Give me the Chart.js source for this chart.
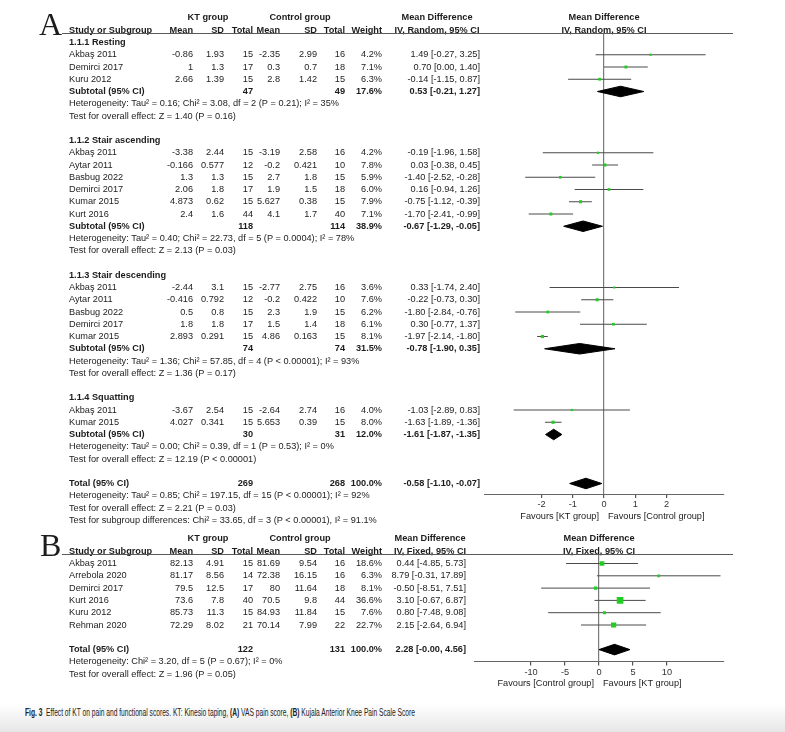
<!DOCTYPE html>
<html><head><meta charset="utf-8">
<script src="https://cdn.jsdelivr.net/npm/chart.js@4.4.1/dist/chart.umd.min.js"></script>
<style>
html,body{margin:0;padding:0;background:#fff;}
body{width:785px;height:732px;position:relative;overflow:hidden;}
#cA{position:absolute;left:0;top:0;}
#cB{position:absolute;left:0;top:528px;}
#band{position:absolute;left:0;top:704px;width:785px;height:28px;background:linear-gradient(#ffffff,#e6e6e6);}
#cap{position:absolute;left:25px;top:706px;font-family:"Liberation Sans Narrow","Liberation Sans",Arial,sans-serif;font-size:10.5px;line-height:12px;color:#222;white-space:nowrap;transform-origin:0 50%;}
</style></head><body>
<div id="band"></div>
<canvas id="cA" width="785" height="528"></canvas>
<canvas id="cB" width="785" height="165"></canvas>
<div id="cap"><b>Fig. 3</b>&nbsp; Effect of KT on pain and functional scores. KT: Kinesio taping, <b>(A)</b> VAS pain score, <b>(B)</b> Kujala Anterior Knee Pain Scale Score</div>
<script>
// ---------------- Panel A data (VAS pain) ----------------
const subgroupsA = ["1.1.1 Resting", "1.1.2 Stair ascending", "1.1.3 Stair descending", "1.1.4 Squatting"];
const studyA = ["Akbaş 2011","Demirci 2017","Kuru 2012","Akbaş 2011","Aytar 2011","Basbug 2022","Demirci 2017","Kumar 2015","Kurt 2016","Akbaş 2011","Aytar 2011","Basbug 2022","Demirci 2017","Kumar 2015","Akbaş 2011","Kumar 2015"];
const groupA = [0,0,0,1,1,1,1,1,1,2,2,2,2,2,3,3];
const ktMeanA = [-0.86, 1, 2.66, -3.38, -0.166, 1.3, 2.06, 4.873, 2.4, -2.44, -0.416, 0.5, 1.8, 2.893, -3.67, 4.027];
const ktSdA = [1.93, 1.3, 1.39, 2.44, 0.577, 1.3, 1.8, 0.62, 1.6, 3.1, 0.792, 0.8, 1.8, 0.291, 2.54, 0.341];
const ktNA = [15, 17, 15, 15, 12, 15, 17, 15, 44, 15, 12, 15, 17, 15, 15, 15];
const ctMeanA = [-2.35, 0.3, 2.8, -3.19, -0.2, 2.7, 1.9, 5.627, 4.1, -2.77, -0.2, 2.3, 1.5, 4.86, -2.64, 5.653];
const ctSdA = [2.99, 0.7, 1.42, 2.58, 0.421, 1.8, 1.5, 0.38, 1.7, 2.75, 0.422, 1.9, 1.4, 0.163, 2.74, 0.39];
const ctNA = [16, 18, 15, 16, 10, 15, 18, 15, 40, 16, 10, 15, 18, 15, 16, 15];
const weightA = [4.2, 7.1, 6.3, 4.2, 7.8, 5.9, 6.0, 7.9, 7.1, 3.6, 7.6, 6.2, 6.1, 8.1, 4.0, 8.0];
const mdA = [1.49, 0.70, -0.14, -0.19, 0.03, -1.40, 0.16, -0.75, -1.70, 0.33, -0.22, -1.80, 0.30, -1.97, -1.03, -1.63];
const loA = [-0.27, 0.00, -1.15, -1.96, -0.38, -2.52, -0.94, -1.12, -2.41, -1.74, -0.73, -2.84, -0.77, -2.14, -2.89, -1.89];
const hiA = [3.25, 1.40, 0.87, 1.58, 0.45, -0.28, 1.26, -0.39, -0.99, 2.40, 0.30, -0.76, 1.37, -1.80, 0.83, -1.36];
const subKtNA = [47, 118, 74, 30];
const subCtNA = [49, 114, 74, 31];
const subWeightA = [17.6, 38.9, 31.5, 12.0];
const subMdA = [0.53, -0.67, -0.78, -1.61];
const subLoA = [-0.21, -1.29, -1.90, -1.87];
const subHiA = [1.27, -0.05, 0.35, -1.35];
const hetA = [
  "Heterogeneity: Tau² = 0.16; Chi² = 3.08, df = 2 (P = 0.21); I² = 35%",
  "Heterogeneity: Tau² = 0.40; Chi² = 22.73, df = 5 (P = 0.0004); I² = 78%",
  "Heterogeneity: Tau² = 1.36; Chi² = 57.85, df = 4 (P < 0.00001); I² = 93%",
  "Heterogeneity: Tau² = 0.00; Chi² = 0.39, df = 1 (P = 0.53); I² = 0%"];
const testA = [
  "Test for overall effect: Z = 1.40 (P = 0.16)",
  "Test for overall effect: Z = 2.13 (P = 0.03)",
  "Test for overall effect: Z = 1.36 (P = 0.17)",
  "Test for overall effect: Z = 12.19 (P < 0.00001)"];
const totalA = { kt: 269, ct: 268, w: 100.0, md: -0.58, lo: -1.10, hi: -0.07 };
const totalNotesA = [
  "Heterogeneity: Tau² = 0.85; Chi² = 197.15, df = 15 (P < 0.00001); I² = 92%",
  "Test for overall effect: Z = 2.21 (P = 0.03)",
  "Test for subgroup differences: Chi² = 33.65, df = 3 (P < 0.00001), I² = 91.1%"];
const ticksA = [-2, -1, 0, 1, 2];

// ---------------- Panel B data (Kujala) ----------------
const studyB = ["Akbaş 2011","Arrebola 2020","Demirci 2017","Kurt 2016","Kuru 2012","Rehman 2020"];
const ktMeanB = [82.13, 81.17, 79.5, 73.6, 85.73, 72.29];
const ktSdB = [4.91, 8.56, 12.5, 7.8, 11.3, 8.02];
const ktNB = [15, 14, 17, 40, 15, 21];
const ctMeanB = [81.69, 72.38, 80, 70.5, 84.93, 70.14];
const ctSdB = [9.54, 16.15, 11.64, 9.8, 11.84, 7.99];
const ctNB = [16, 16, 18, 44, 15, 22];
const weightB = [18.6, 6.3, 8.1, 36.6, 7.6, 22.7];
const mdB = [0.44, 8.79, -0.50, 3.10, 0.80, 2.15];
const loB = [-4.85, -0.31, -8.51, -0.67, -7.48, -2.64];
const hiB = [5.73, 17.89, 7.51, 6.87, 9.08, 6.94];
const totalB = { kt: 122, ct: 131, w: 100.0, md: 2.28, lo: -0, hi: 4.56 };
const totalNotesB = [
  "Heterogeneity: Chi² = 3.20, df = 5 (P = 0.67); I² = 0%",
  "Test for overall effect: Z = 1.96 (P = 0.05)"];
const ticksB = [-10, -5, 0, 5, 10];

// ---------------- helpers ----------------
const FONT = '"Liberation Sans", Arial, sans-serif';
const FS = 9.2;
const TXT = '#1c1c1c';
const GREEN = '#22cc22';
const COLX = [193, 224, 253, 280, 317, 345, 382];

function fmt(v, d) { const s = Math.abs(v).toFixed(d); return (v < 0 || Object.is(v, -0)) ? '-' + s : s; }
function ci(m, l, h) { return fmt(m, 2) + ' [' + fmt(l, 2) + ', ' + fmt(h, 2) + ']'; }
function pct(w) { return w.toFixed(1) + '%'; }

// ---------------- rows ----------------
const rowsA = [];
let rr = 0;
subgroupsA.forEach((g, gi) => {
  rowsA.push({ r: rr++, label: g, bold: true });
  studyA.forEach((name, i) => {
    if (groupA[i] !== gi) return;
    rowsA.push({ r: rr++, label: name,
      cells: [ktMeanA[i], ktSdA[i], ktNA[i], ctMeanA[i], ctSdA[i], ctNA[i]].map(String).concat([pct(weightA[i])]),
      ci: ci(mdA[i], loA[i], hiA[i]), mark: 'sq', md: mdA[i], lo: loA[i], hi: hiA[i], w: weightA[i] });
  });
  rowsA.push({ r: rr++, label: 'Subtotal (95% CI)', bold: true,
    cells: ['', '', String(subKtNA[gi]), '', '', String(subCtNA[gi]), pct(subWeightA[gi])],
    ci: ci(subMdA[gi], subLoA[gi], subHiA[gi]), mark: 'dia', md: subMdA[gi], lo: subLoA[gi], hi: subHiA[gi] });
  rowsA.push({ r: rr++, label: hetA[gi] });
  rowsA.push({ r: rr++, label: testA[gi] });
  rr++;
});
rowsA.push({ r: rr++, label: 'Total (95% CI)', bold: true,
  cells: ['', '', String(totalA.kt), '', '', String(totalA.ct), pct(totalA.w)],
  ci: ci(totalA.md, totalA.lo, totalA.hi), mark: 'dia', md: totalA.md, lo: totalA.lo, hi: totalA.hi });
totalNotesA.forEach(t => rowsA.push({ r: rr++, label: t }));

const rowsB = [];
rr = 0;
studyB.forEach((name, i) => {
  rowsB.push({ r: rr++, label: name,
    cells: [ktMeanB[i], ktSdB[i], ktNB[i], ctMeanB[i], ctSdB[i], ctNB[i]].map(String).concat([pct(weightB[i])]),
    ci: ci(mdB[i], loB[i], hiB[i]), mark: 'sq', md: mdB[i], lo: loB[i], hi: hiB[i], w: weightB[i] });
});
rr++;
rowsB.push({ r: rr++, label: 'Total (95% CI)', bold: true,
  cells: ['', '', String(totalB.kt), '', '', String(totalB.ct), pct(totalB.w)],
  ci: ci(totalB.md, totalB.lo, totalB.hi), mark: 'dia', md: totalB.md, lo: totalB.lo, hi: totalB.hi });
totalNotesB.forEach(t => rowsB.push({ r: rr++, label: t }));

function datasetsFrom(rows) {
  const ds = [];
  const sq = { type: 'scatter', data: [], pointStyle: 'rect', pointRadius: [], pointHoverRadius: 0,
               backgroundColor: GREEN, borderColor: GREEN, borderWidth: 0, order: 0 };
  rows.forEach(row => {
    if (row.mark === 'sq') {
      ds.push({ type: 'line', data: [{ x: row.lo, y: row.r }, { x: row.hi, y: row.r }],
        borderColor: '#4a4a4a', borderWidth: 1, pointRadius: 0, pointHoverRadius: 0, fill: false, order: 2 });
      sq.data.push({ x: row.md, y: row.r });
      sq.pointRadius.push(1.1 * Math.sqrt(row.w) / 1.414);
    } else if (row.mark === 'dia') {
      const h = 0.43;
      ds.push({ type: 'line', data: [{ x: row.lo, y: row.r }, { x: row.md, y: row.r - h }, { x: row.hi, y: row.r },
        { x: row.md, y: row.r + h }, { x: row.lo, y: row.r }],
        borderColor: '#000', backgroundColor: '#000', borderWidth: 1, pointRadius: 0, pointHoverRadius: 0,
        fill: 'shape', tension: 0, order: 1 });
    }
  });
  ds.push(sq);
  return ds;
}

function tablePlugin(spec) {
  return {
    id: 'forestTable',
    afterDraw(chart) {
      const ctx = chart.ctx, ys = chart.scales.y, xs = chart.scales.x, ca = chart.chartArea;
      ctx.save();
      ctx.fillStyle = TXT;
      const t = (s, px, py, align, bold, base) => {
        ctx.font = (bold ? 'bold ' : '') + FS + 'px ' + FONT;
        ctx.textAlign = align; ctx.textBaseline = base || 'middle';
        ctx.fillText(s, px, py);
      };
      // panel letter
      ctx.font = '32px "Liberation Serif", "Times New Roman", serif';
      ctx.textAlign = 'left'; ctx.textBaseline = 'alphabetic';
      ctx.fillText(spec.letter, spec.letterX, spec.letterY);
      // headers
      const b2 = ca.top - 0.5, b1 = ca.top - 13.4;
      const plotC = (ca.left + ca.right) / 2;
      t('KT group', 208, b1, 'center', true, 'alphabetic');
      t('Control group', 300, b1, 'center', true, 'alphabetic');
      t('Mean Difference', spec.ciHeadC, b1, 'center', true, 'alphabetic');
      t('Mean Difference', plotC, b1, 'center', true, 'alphabetic');
      t('Study or Subgroup', 69, b2, 'left', true, 'alphabetic');
      ['Mean', 'SD', 'Total', 'Mean', 'SD', 'Total', 'Weight'].forEach((h, k) => t(h, COLX[k], b2, 'right', true, 'alphabetic'));
      t(spec.method, spec.ciHeadC, b2, 'center', true, 'alphabetic');
      t(spec.method, plotC, b2, 'center', true, 'alphabetic');
      ctx.strokeStyle = '#5a5a5a'; ctx.lineWidth = 1;
      ctx.beginPath(); ctx.moveTo(62, Math.round(ca.top) + 0.5); ctx.lineTo(733, Math.round(ca.top) + 0.5); ctx.stroke();
      // rows
      spec.rows.forEach(row => {
        const py = ys.getPixelForValue(row.r);
        t(row.label, 69, py, 'left', row.bold);
        if (row.cells) row.cells.forEach((c, k) => { if (c) t(c, COLX[k], py, 'right', row.bold); });
        if (row.ci) t(row.ci, spec.ciRight, py, 'right', row.bold);
      });
      // favours labels
      const zx = xs.getPixelForValue(0), fy = ca.bottom + 22;
      t(spec.favL, zx - 5, fy, 'right', false);
      t(spec.favR, zx + 4, fy, 'left', false);
      ctx.restore();
    }
  };
}

function makeForest(id, spec) {
  const el = document.getElementById(id);
  const H = el.height;
  return new Chart(el, {
    type: 'scatter',
    data: { datasets: datasetsFrom(spec.rows) },
    options: {
      responsive: false, animation: false, events: [],
      layout: { padding: { left: spec.left, right: 785 - spec.right, top: spec.top, bottom: 0 } },
      plugins: { legend: { display: false }, tooltip: { enabled: false } },
      scales: {
        x: {
          type: 'linear', min: spec.xmin, max: spec.xmax,
          afterBuildTicks: s => { s.ticks = spec.ticks.map(v => ({ value: v })); },
          afterFit: s => { s.height = H - spec.bottom; },
          grid: {
            color: c => (c.tick && c.tick.value === 0) ? '#7a7a7a' : 'rgba(0,0,0,0)',
            lineWidth: 1.2, tickColor: '#555', tickLength: 4, drawOnChartArea: true
          },
          border: { display: true, color: '#666', width: 1 },
          ticks: { padding: 1, color: '#333', maxRotation: 0, autoSkip: false,
                   font: { size: FS, family: FONT }, callback: v => String(v) }
        },
        y: { type: 'linear', display: false, reverse: true, min: spec.ymin, max: spec.ymax }
      }
    },
    plugins: [tablePlugin(spec)]
  });
}

// Panel A geometry: row r centre at 42.5 + 12.25 r; plot area 33..494
makeForest('cA', {
  rows: rowsA, letter: 'A', letterX: 39, letterY: 35,
  method: 'IV, Random, 95% CI', ciHeadC: 437, ciRight: 480,
  favL: 'Favours [KT group]', favR: 'Favours [Control group]',
  left: 484, right: 724, top: 33, bottom: 494,
  xmin: -3.84, xmax: 3.84, ticks: ticksA,
  ymin: (33 - 42.5) / 12.25, ymax: (494 - 42.5) / 12.25
});
// Panel B geometry (canvas top 528): row r centre at 35.5 + 12.3 r; plot area 26..133.5
makeForest('cB', {
  rows: rowsB, letter: 'B', letterX: 40, letterY: 28,
  method: 'IV, Fixed, 95% CI', ciHeadC: 430, ciRight: 466,
  favL: 'Favours [Control group]', favR: 'Favours [KT group]',
  left: 474, right: 724, top: 26, bottom: 133.5,
  xmin: -18.4, xmax: 18.4, ticks: ticksB,
  ymin: (26 - 35.5) / 12.3, ymax: (133.5 - 35.5) / 12.3
});

const cap = document.getElementById('cap');
const cw = cap.getBoundingClientRect().width;
cap.style.transform = 'scaleX(' + (390 / cw) + ')';
</script>
</body></html>
